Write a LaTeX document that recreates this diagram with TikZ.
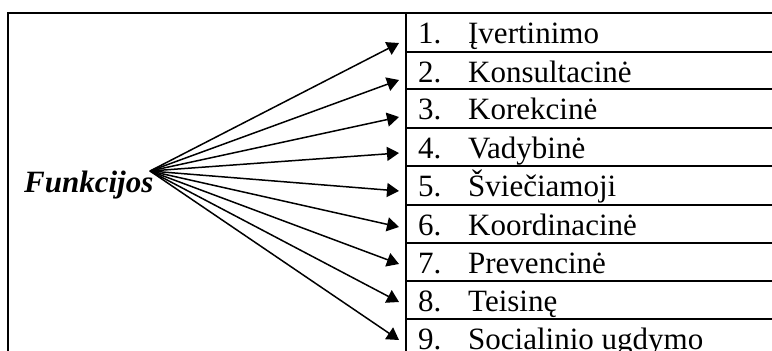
\documentclass[tikz,border=0pt]{standalone}
\usepackage{fontspec}
\setmainfont{Liberation Serif}
\usetikzlibrary{arrows.meta}

\tikzset{
  rule/.style={line width=2.4pt},
  arr/.style={line width=1.5pt,-{Triangle[length=12pt,width=14pt]}},
  cell/.style={anchor=base west,inner sep=0pt,font=\fontsize{31}{36}\selectfont},
  head/.style={anchor=base west,inner sep=0pt,font=\fontsize{31}{36}\selectfont\bfseries\itshape}
}

\begin{document}
\begin{tikzpicture}[x=1pt,y=-1pt]
\useasboundingbox (0,0) rectangle (772,351);
%%%%% Frame %%%%%
\draw[rule] (772,13)--(8,13)--(8,351);
\draw[rule] (406,13)--(406,351);
\foreach \y in {52,89,128,166,205,243,281,319}{
\draw[rule] (406,\y)--(772,\y);
}
%%%%% Rows %%%%%
\foreach \i/\y/\t in {1/13/Įvertinimo,2/52/Konsultacinė,3/89/Korekcinė,4/128/Vadybinė,5/166/Šviečiamoji,6/205/Koordinacinė,7/243/Prevencinė,8/281/Teisinę,9/319/Socialinio ugdymo}{
\node[cell] (r\i) at (418,\y+30) {\makebox[50pt][l]{\i.}\t};
}
%%%%% Arrows %%%%%
\node[head] (fn) at (24,192) {Funkcijos};
\coordinate (hub) at (150,171);
\foreach \i/\y in {1/43,2/80,3/117,4/153,5/191,6/227,7/264,8/302,9/340}{
\coordinate (t\i) at (399,\y);
\draw[arr] (hub)--(t\i);
}
\end{tikzpicture}
\end{document}
